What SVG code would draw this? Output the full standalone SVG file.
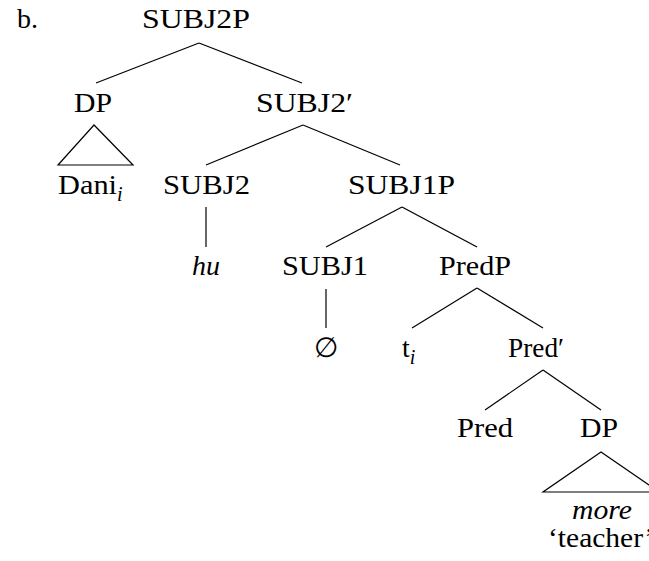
<svg xmlns="http://www.w3.org/2000/svg" width="649" height="561" viewBox="0 0 649 561">
<style>
.m{text-anchor:middle}
.it{font-style:italic}
.sub{font-style:italic;font-size:20px}
.e line,.e polygon{stroke:#000;stroke-width:1.2;fill:none}
</style>
<rect width="649" height="561" fill="#fff"/>
<g class="e" id="connectors">
<line x1="199" y1="43" x2="96" y2="83"/>
<line x1="199" y1="43" x2="302" y2="83"/>
<polygon points="94,125 58,165 133,165"/>
<line x1="303" y1="125" x2="206" y2="165"/>
<line x1="303" y1="125" x2="400" y2="165"/>
<line x1="206" y1="207" x2="206" y2="247"/>
<line x1="402" y1="207" x2="326" y2="247"/>
<line x1="402" y1="207" x2="477" y2="247"/>
<line x1="326" y1="289" x2="326" y2="328"/>
<line x1="477" y1="288" x2="412" y2="328"/>
<line x1="477" y1="288" x2="543" y2="328"/>
<line x1="543" y1="370" x2="485" y2="410"/>
<line x1="543" y1="370" x2="601" y2="410"/>
<polygon points="601,452 543,492 659,492"/>
</g>
<g style="font-family:'Liberation Serif',serif;font-size:28px" fill="#000">
<text id="label-b" x="17" y="28">b.</text>
<g id="n-subj2p"><text x="142" y="28" textLength="108" lengthAdjust="spacingAndGlyphs">SUBJ2P</text></g>
<g id="n-dp1"><text x="74" y="112" textLength="38" lengthAdjust="spacingAndGlyphs">DP</text></g>
<g id="n-subj2bar"><text x="256" y="112" textLength="97" lengthAdjust="spacingAndGlyphs">SUBJ2′</text></g>
<g id="n-dani"><text x="58" y="194"><tspan textLength="59" lengthAdjust="spacingAndGlyphs">Dani</tspan><tspan class="sub" dy="7">i</tspan></text></g>
<g id="n-subj2"><text x="163" y="194" textLength="87" lengthAdjust="spacingAndGlyphs">SUBJ2</text></g>
<g id="n-subj1p"><text x="348" y="194" textLength="107" lengthAdjust="spacingAndGlyphs">SUBJ1P</text></g>
<g id="n-hu"><text class="m it" x="206" y="275">hu</text></g>
<g id="n-subj1"><text x="282" y="275" textLength="86" lengthAdjust="spacingAndGlyphs">SUBJ1</text></g>
<g id="n-predp"><text x="439" y="275" textLength="72" lengthAdjust="spacingAndGlyphs">PredP</text></g>
<g id="n-empty"><text class="m" x="326" y="357">∅</text></g>
<g id="n-trace"><text x="402" y="357">t<tspan class="sub" dy="7">i</tspan></text></g>
<g id="n-predbar"><text x="508" y="357" textLength="56" lengthAdjust="spacingAndGlyphs">Pred′</text></g>
<g id="n-pred"><text x="457" y="437" textLength="56" lengthAdjust="spacingAndGlyphs">Pred</text></g>
<g id="n-dp2"><text x="580" y="437" textLength="38" lengthAdjust="spacingAndGlyphs">DP</text></g>
<g id="n-more"><text x="572" y="519" class="it" textLength="60" lengthAdjust="spacingAndGlyphs">more</text>
<text x="548" y="547" textLength="106" lengthAdjust="spacingAndGlyphs">‘teacher’</text></g>
</g>
</svg>
